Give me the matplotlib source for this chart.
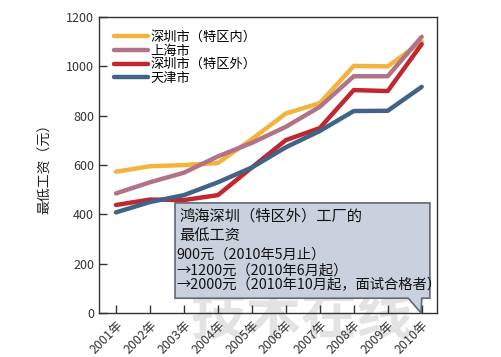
import matplotlib.pyplot as plt
from matplotlib.patches import Polygon

plt.rcParams['font.family'] = ['Noto Sans CJK SC', 'DejaVu Sans']

years = ['2001年', '2002年', '2003年', '2004年', '2005年',
         '2006年', '2007年', '2008年', '2009年', '2010年']
sz_inner = [573, 595, 600, 608, 705, 809, 851, 1002, 1000, 1100]
shanghai = [485, 530, 569, 635, 690, 755, 836, 960, 960, 1120]
sz_outer = [438, 460, 458, 478, 590, 701, 750, 904, 900, 1090]
tianjin = [408, 450, 478, 530, 590, 672, 738, 819, 820, 917]

names = ['深圳市（特区内）', '上海市', '深圳市（特区外）', '天津市']
colors = ['#F2B43C', '#B27389', '#C1272F', '#416388']

fig = plt.figure(figsize=(5.01, 3.57), dpi=100)
ax = fig.add_axes([0.1976, 0.1232, 0.6746, 0.829])

x = list(range(len(years)))
for vals, name, c in zip([sz_inner, shanghai, sz_outer, tianjin], names, colors):
    ax.plot(x, vals, color=c, lw=3.2, label=name, solid_capstyle='round')

ax.set_xlim(-0.5, 9.45)
ax.set_ylim(0, 1200)
ax.set_yticks([0, 200, 400, 600, 800, 1000, 1200])
ax.set_xticks(x)
ax.set_xticklabels(years, rotation=45, ha='right', rotation_mode='anchor', fontsize=8.5)
ax.tick_params(axis='both', direction='in', length=6, width=1, labelsize=9, colors='#333333')
ax.tick_params(axis='x', pad=4)
for s in ax.spines.values():
    s.set_color('#333333')
    s.set_linewidth(1)
ax.set_ylabel('最低工资（元）', fontsize=10, color='#222222', labelpad=10)

leg = ax.legend(loc='upper left', bbox_to_anchor=(0.02, 0.98), frameon=False,
                fontsize=9.5, handlelength=2.6, labelspacing=0.05, handletextpad=0.2,
                borderaxespad=0.2)

# watermark (faint, behind the callout)
ax.text(0.6, -0.02, '技术在线', transform=ax.transAxes, fontsize=40, color='#c8c8c8',
        alpha=0.5, ha='center', va='center', zorder=1, fontweight='bold', clip_on=False)

# callout box
bx0, bx1, by0, by1 = 0.225, 0.979, 0.05, 0.372
pts = [(bx0, by0), (bx0, by1), (bx1, by1), (bx1, by0), (0.955, by0),
       (0.953, 0.0), (0.915, by0)]
box = Polygon(pts, closed=True, transform=ax.transAxes, facecolor='#C6CEDD',
              edgecolor='#5a6070', lw=1.2, alpha=0.95, zorder=5)
ax.add_patch(box)
ax.text(0.238, 0.355, '鸿海深圳（特区外）工厂的\n最低工资', transform=ax.transAxes,
        fontsize=11, va='top', ha='left', linespacing=1.15, zorder=6, color='#111111')
ax.text(0.228, 0.22, '900元（2010年5月止）\n→1200元（2010年6月起）\n→2000元（2010年10月起，面试合格者）',
        transform=ax.transAxes, fontsize=10.3, va='top', ha='left', linespacing=1.12,
        zorder=6, color='#111111')

fig.savefig('out.png', dpi=100)
